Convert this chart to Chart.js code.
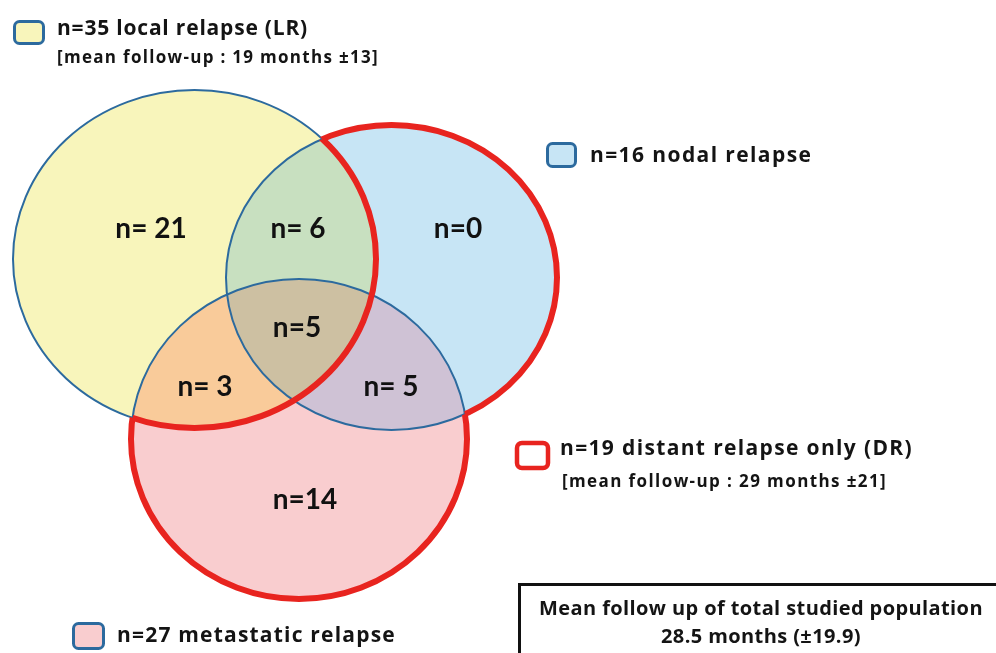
<!DOCTYPE html>
<html>
<head>
<meta charset="utf-8">
<script src="https://cdn.jsdelivr.net/npm/chart.js@4.4.1/dist/chart.umd.min.js"></script>
<style>
  html, body { margin: 0; padding: 0; background: #fff; }
  #venn { display: block; }
</style>
</head>
<body>
<canvas id="venn" width="996" height="653"></canvas>
<script>
// Diagrama de Venn: recidiva local / ganglionar / metastática

// conjuntos (ordem: LR, nodal, metastático)
const SET_TOTALS = [35, 16, 27];
const SET_NAMES  = ['local relapse (LR)', 'nodal relapse', 'metastatic relapse'];
const DR_TOTAL   = 19;

// regiões: pertença a [LR, N, M] e contagens
const REGION_KEYS   = ['100', '110', '010', '111', '101', '011', '001'];
const REGION_COUNTS = [21, 6, 0, 5, 3, 5, 14];
const REGION_GAP    = [true, true, false, false, true, true, false]; // "n= 21" vs "n=0"

// seguimento médio (meses, ±dp)
const FU_LR  = [19, 13];
const FU_DR  = [29, 21];
const FU_ALL = [28.5, 19.9];

// --- layout (unidades das escalas x/y) ---
const ELLIPSES = [
  { cx: 194.5, cy: 259,   rx: 181.5, ry: 169 },   // LR
  { cx: 391.5, cy: 277.5, rx: 165.5, ry: 152.5 }, // nodal
  { cx: 299,   cy: 439,   rx: 168,   ry: 160 }    // metastático
];
const REGION_POS = [[151, 229], [298, 229], [458, 229], [297, 328], [205, 387], [391, 387], [305, 500]];
const REGION_COLORS = ['#f8f5bb', '#c8e0c0', '#c7e5f5', '#cdc0a2', '#f9cb9a', '#cfc2d5', '#f9cdcf'];
const SET_COLORS = ['#f8f5bb', '#c7e5f5', '#f9cdcf'];
const BLUE = '#2c6a9e';
const RED  = '#e8241f';
const FONT = 'Lato, "Open Sans", sans-serif';
const LEGEND_FONT = '"Open Sans", Lato, sans-serif';

function ellPx(chart, e) {
  const X = chart.scales.x, Y = chart.scales.y;
  const cx = X.getPixelForValue(e.cx), cy = Y.getPixelForValue(e.cy);
  const rx = Math.abs(X.getPixelForValue(e.cx + e.rx) - cx);
  const ry = Math.abs(Y.getPixelForValue(e.cy + e.ry) - cy);
  return { cx, cy, rx, ry };
}

function addEllipse(ctx, p) {
  ctx.moveTo(p.cx + p.rx, p.cy);
  ctx.ellipse(p.cx, p.cy, p.rx, p.ry, 0, 0, Math.PI * 2);
}

function clipInside(ctx, list) {
  ctx.beginPath();
  list.forEach(p => addEllipse(ctx, p));
  ctx.clip();
}

function clipOutside(ctx, chart, p) {
  ctx.beginPath();
  ctx.rect(0, 0, chart.width, chart.height);
  addEllipse(ctx, p);
  ctx.clip('evenodd');
}

function strokeEll(ctx, p, color, lw) {
  ctx.beginPath();
  addEllipse(ctx, p);
  ctx.strokeStyle = color;
  ctx.lineWidth = lw;
  ctx.stroke();
}

const vennPlugin = {
  id: 'venn',
  beforeDatasetsDraw(chart) {
    const ctx = chart.ctx;
    const E = ELLIPSES.map(e => ellPx(chart, e));

    // preenchimento de cada região
    REGION_KEYS.forEach((key, r) => {
      ctx.save();
      key.split('').forEach((b, i) => {
        if (b === '1') clipInside(ctx, [E[i]]);
        else clipOutside(ctx, chart, E[i]);
      });
      ctx.fillStyle = REGION_COLORS[r];
      ctx.fillRect(0, 0, chart.width, chart.height);
      ctx.restore();
    });

    // contornos azuis finos
    E.forEach(p => strokeEll(ctx, p, BLUE, 2));

    // contorno vermelho: (N ∪ M) sem LR  -> recidiva à distância só
    ctx.save();
    clipOutside(ctx, chart, E[0]);
    clipOutside(ctx, chart, E[2]);
    strokeEll(ctx, E[1], RED, 6);
    ctx.restore();

    ctx.save();
    clipOutside(ctx, chart, E[0]);
    clipOutside(ctx, chart, E[1]);
    strokeEll(ctx, E[2], RED, 6);
    ctx.restore();

    ctx.save();
    clipInside(ctx, [E[1], E[2]]);
    strokeEll(ctx, E[0], RED, 6);
    ctx.restore();
  },
  afterDatasetsDraw(chart) {
    const ctx = chart.ctx;
    const meta = chart.getDatasetMeta(0);

    // contagens por região
    ctx.save();
    ctx.fillStyle = '#111';
    ctx.font = 'bold 28px ' + FONT;
    ctx.textAlign = 'center';
    ctx.textBaseline = 'middle';
    meta.data.forEach((pt, i) => {
      const txt = (REGION_GAP[i] ? 'n= ' : 'n=') + REGION_COUNTS[i];
      ctx.fillText(txt, pt.x, pt.y);
    });
    ctx.restore();

    // legendas
    function swatch(x, y, w, h, fill, stroke, lw) {
      ctx.beginPath();
      ctx.roundRect(x, y, w, h, 5);
      ctx.fillStyle = fill;
      ctx.fill();
      ctx.strokeStyle = stroke;
      ctx.lineWidth = lw;
      ctx.stroke();
    }
    function text(t, x, y, size, spacing, align) {
      ctx.font = 'bold ' + size + 'px ' + LEGEND_FONT;
      ctx.letterSpacing = spacing + 'px';
      ctx.textAlign = align || 'left';
      ctx.textBaseline = 'alphabetic';
      ctx.fillStyle = '#141414';
      ctx.fillText(t, x, y);
    }

    ctx.save();
    swatch(14.5, 21.5, 29, 22, SET_COLORS[0], BLUE, 3);
    text(`n=${SET_TOTALS[0]} ${SET_NAMES[0]}`, 57, 35, 21, 0.8);
    text(`[mean follow-up : ${FU_LR[0]} months ±${FU_LR[1]}]`, 57, 63, 17, 1.3);

    swatch(547.5, 143.5, 28, 23, SET_COLORS[1], BLUE, 3);
    text(`n=${SET_TOTALS[1]} ${SET_NAMES[1]}`, 590, 162, 21, 1.4);

    swatch(517, 443, 31, 25, '#fff', RED, 4.5);
    text(`n=${DR_TOTAL} distant relapse only (DR)`, 560, 455, 21, 1.35);
    text(`[mean follow-up : ${FU_DR[0]} months ±${FU_DR[1]}]`, 562, 487, 17, 1.4);

    swatch(73.5, 623.5, 30, 25, SET_COLORS[2], BLUE, 3);
    text(`n=${SET_TOTALS[2]} ${SET_NAMES[2]}`, 117, 642, 21, 1.2);

    // caixa do seguimento total
    ctx.strokeStyle = '#111';
    ctx.lineWidth = 3;
    ctx.strokeRect(519.5, 584.5, 484, 100);
    text('Mean follow up of total studied population', 761, 615, 20, 0.4, 'center');
    text(`${FU_ALL[0]} months (±${FU_ALL[1]})`, 761, 643, 20, 0.4, 'center');
    ctx.restore();
  }
};

new Chart(document.getElementById('venn').getContext('2d'), {
  type: 'scatter',
  data: {
    datasets: [{
      data: REGION_POS.map(([x, y], i) => ({ x, y, n: REGION_COUNTS[i] })),
      pointRadius: 0,
      pointHoverRadius: 0
    }]
  },
  options: {
    responsive: false,
    animation: false,
    events: [],
    layout: { padding: 0 },
    plugins: { legend: { display: false }, tooltip: { enabled: false } },
    scales: {
      x: { type: 'linear', min: 0, max: 996, display: false },
      y: { type: 'linear', min: 0, max: 653, reverse: true, display: false }
    }
  },
  plugins: [vennPlugin]
});
</script>
</body>
</html>
